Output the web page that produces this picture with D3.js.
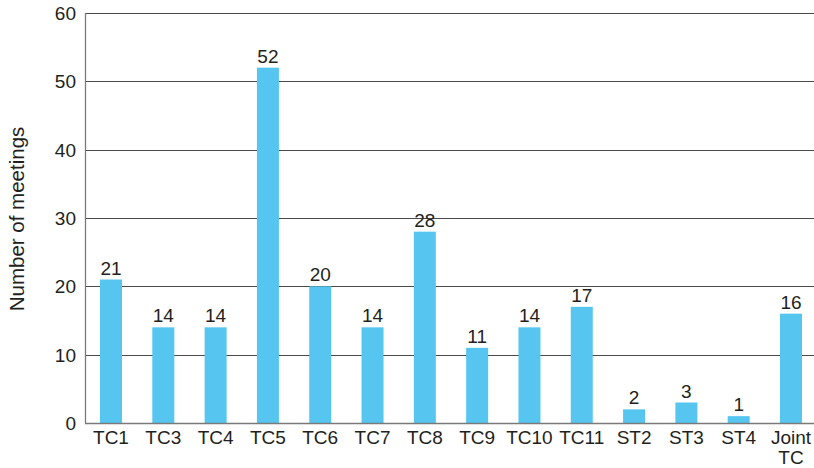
<!DOCTYPE html>
<html>
<head>
<meta charset="utf-8">
<script src="https://cdn.jsdelivr.net/npm/d3@7"></script>
<style>
  html, body { margin: 0; padding: 0; background: #fff; }
  svg { display: block; font-family: "Liberation Sans", Arial, Helvetica, sans-serif; }
</style>
</head>
<body>
<svg id="chart" width="814" height="468"></svg>
<script>
// Meetings held by each committee
const committees = ["TC1", "TC3", "TC4", "TC5", "TC6", "TC7", "TC8", "TC9", "TC10", "TC11", "ST2", "ST3", "ST4", "Joint TC"];
const meetings = [21, 14, 14, 52, 20, 14, 28, 11, 14, 17, 2, 3, 1, 16];
const yTicks = [0, 10, 20, 30, 40, 50, 60];
const yTitle = "Number of meetings";

const svg = d3.select("#chart");
const plot = { left: 85, right: 814, top: 13, bottom: 423 };

const x = d3.scalePoint().domain(committees).range([111, 791]);
const y = d3.scaleLinear().domain([0, 60]).range([plot.bottom, plot.top]);
const barW = 22;

// horizontal gridlines
svg.append("g")
  .selectAll("line")
  .data(yTicks.filter(t => t > 0))
  .join("line")
  .attr("x1", plot.left).attr("x2", plot.right)
  .attr("y1", d => Math.round(y(d)) + 0.5).attr("y2", d => Math.round(y(d)) + 0.5)
  .attr("stroke", "#4a4a4a").attr("stroke-width", 1.2);

// y tick labels
svg.append("g")
  .selectAll("text")
  .data(yTicks)
  .join("text")
  .attr("x", 76)
  .attr("y", d => y(d))
  .attr("dy", "0.36em")
  .attr("text-anchor", "end")
  .attr("font-size", 19)
  .attr("fill", "#231f20")
  .text(d => d);

// bars
svg.append("g")
  .selectAll("rect")
  .data(meetings)
  .join("rect")
  .attr("x", (d, i) => x(committees[i]) - barW / 2)
  .attr("width", barW)
  .attr("y", d => y(d))
  .attr("height", d => y(0) - y(d))
  .attr("fill", "#56c6f1");

// value labels
svg.append("g")
  .selectAll("text")
  .data(meetings)
  .join("text")
  .attr("x", (d, i) => x(committees[i]))
  .attr("y", d => y(d) - 5)
  .attr("text-anchor", "middle")
  .attr("font-size", 19)
  .attr("fill", "#231f20")
  .text(d => d);

// axis lines
svg.append("line")
  .attr("x1", plot.left + 0.5).attr("x2", plot.left + 0.5)
  .attr("y1", plot.top).attr("y2", plot.bottom)
  .attr("stroke", "#7a7a7a").attr("stroke-width", 1.3);
svg.append("line")
  .attr("x1", plot.left).attr("x2", plot.right)
  .attr("y1", plot.bottom + 0.5).attr("y2", plot.bottom + 0.5)
  .attr("stroke", "#7a7a7a").attr("stroke-width", 1.3);

// category labels (multi-word names wrap onto two lines)
const cat = svg.append("g")
  .selectAll("text")
  .data(committees)
  .join("text")
  .attr("x", d => x(d))
  .attr("y", 444)
  .attr("text-anchor", "middle")
  .attr("font-size", 19)
  .attr("fill", "#231f20");
cat.each(function(d) {
  const words = d.split(" ");
  d3.select(this).selectAll("tspan")
    .data(words)
    .join("tspan")
    .attr("x", x(d))
    .attr("dy", (w, i) => i === 0 ? 0 : "1.05em")
    .text(w => w);
});

// y axis title
svg.append("text")
  .attr("transform", `translate(24,219) rotate(-90)`)
  .attr("text-anchor", "middle")
  .attr("font-size", 20.5)
  .attr("fill", "#231f20")
  .text(yTitle);
</script>
</body>
</html>
